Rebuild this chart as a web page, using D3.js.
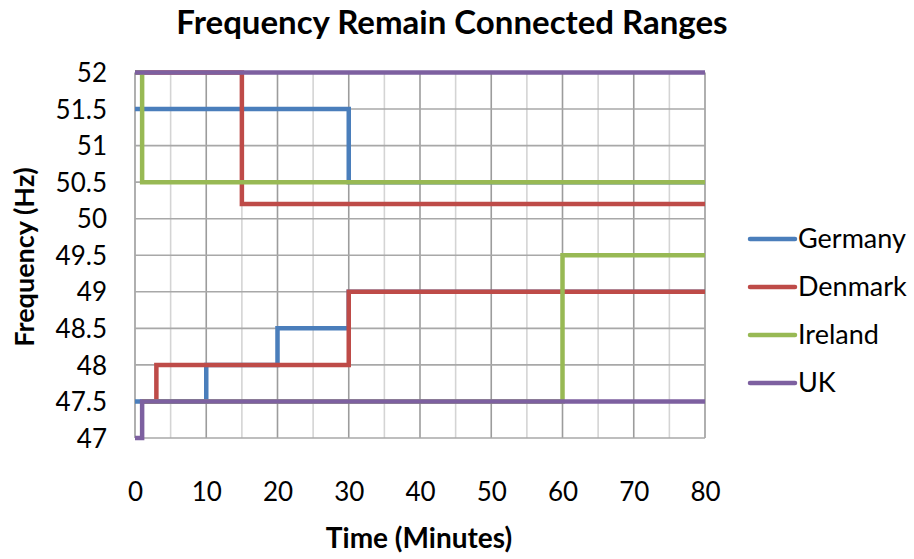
<!DOCTYPE html>
<html>
<head>
<meta charset="utf-8">
<script src="https://cdn.jsdelivr.net/npm/d3@7"></script>
<style>
  html, body { margin: 0; padding: 0; background: #ffffff; }
  svg { display: block; }
  text { font-family: Lato, "Open Sans", sans-serif; fill: #000; }
</style>
</head>
<body>
<svg id="chart" width="914" height="559"></svg>
<script>
// ---- data ----
const categories = ["Germany", "Denmark", "Ireland", "UK"];
const xTicks = [0, 10, 20, 30, 40, 50, 60, 70, 80];
const yTicks = [47, 47.5, 48, 48.5, 49, 49.5, 50, 50.5, 51, 51.5, 52];

// each series: upper and lower limit step lines, [time (min), frequency (Hz)]
const germanyUpper = [[0, 51.5], [30, 51.5], [30, 50.5], [80, 50.5]];
const germanyLower = [[0, 47.5], [10, 47.5], [10, 48], [20, 48], [20, 48.5], [30, 48.5], [30, 49], [80, 49]];
const denmarkUpper = [[0, 52], [15, 52], [15, 50.2], [80, 50.2]];
const denmarkLower = [[1, 47.5], [3, 47.5], [3, 48], [30, 48], [30, 49], [80, 49]];
const irelandUpper = [[0, 52], [1, 52], [1, 50.5], [80, 50.5]];
const irelandLower = [[1, 47.5], [60, 47.5], [60, 49.5], [80, 49.5]];
const ukUpper = [[0, 52], [80, 52]];
const ukLower = [[0, 47], [1, 47], [1, 47.5], [80, 47.5]];

const seriesLines = [
  [germanyUpper, germanyLower],
  [denmarkUpper, denmarkLower],
  [irelandUpper, irelandLower],
  [ukUpper, ukLower]
];
const colors = ["#4A7EBB", "#BE4B48", "#98B954", "#7D60A0"];

// ---- layout ----
const svg = d3.select("#chart");
const plotLeft = 135, plotRight = 705, plotTop = 72.5, plotBottom = 438;

const x = d3.scaleLinear().domain([0, 80]).range([plotLeft, plotRight]);
const y = d3.scaleLinear().domain([47, 52]).range([plotBottom, plotTop]);

// minor vertical gridlines (every 5)
const minorX = d3.range(5, 80, 10);
svg.append("g").selectAll("line").data(minorX).join("line")
  .attr("x1", d => x(d)).attr("x2", d => x(d))
  .attr("y1", y(52)).attr("y2", y(47))
  .attr("stroke", "#d4d4d4").attr("stroke-width", 1.6);

// major vertical gridlines
svg.append("g").selectAll("line").data(xTicks).join("line")
  .attr("x1", d => x(d)).attr("x2", d => x(d))
  .attr("y1", y(52)).attr("y2", y(47))
  .attr("stroke", "#9c9c9c").attr("stroke-width", 1.6);

// horizontal gridlines
svg.append("g").selectAll("line").data(yTicks).join("line")
  .attr("x1", x(0)).attr("x2", x(80))
  .attr("y1", d => y(d)).attr("y2", d => y(d))
  .attr("stroke", "#a8a8a8").attr("stroke-width", 1.6);

// axes (labels only)
const xAxis = d3.axisBottom(x).tickValues(xTicks).tickSize(0).tickPadding(0).tickFormat(d3.format("d"));
const gx = svg.append("g").attr("transform", `translate(0,${plotBottom + 63})`).call(xAxis);
gx.select(".domain").remove();
gx.selectAll("text").attr("font-size", 26).attr("font-family", "Lato").attr("fill", "#000").attr("dy", 0);

const yAxis = d3.axisLeft(y).tickValues(yTicks).tickSize(0).tickPadding(0).tickFormat(d => String(d));
const gy = svg.append("g").attr("transform", `translate(${plotLeft - 28},0)`).call(yAxis);
gy.select(".domain").remove();
gy.selectAll("text").attr("font-size", 26).attr("font-family", "Lato").attr("fill", "#000").attr("dy", "0.35em");

// series lines
const line = d3.line().x(d => x(d[0])).y(d => y(d[1]));
const gs = svg.append("g");
seriesLines.forEach((segs, i) => {
  segs.forEach(seg => {
    gs.append("path").attr("d", line(seg))
      .attr("fill", "none").attr("stroke", colors[i])
      .attr("stroke-width", 4.5).attr("stroke-linejoin", "miter").attr("stroke-linecap", "butt");
  });
});

// title
svg.append("text").attr("x", 452).attr("y", 34).attr("text-anchor", "middle")
  .attr("font-size", 33).attr("font-weight", "bold").text("Frequency Remain Connected Ranges");

// axis titles
svg.append("text").attr("x", 419).attr("y", 548).attr("text-anchor", "middle")
  .attr("font-size", 28).attr("font-weight", "bold").text("Time (Minutes)");
svg.append("text").attr("transform", "translate(34,257) rotate(-90)").attr("text-anchor", "middle")
  .attr("font-size", 27).attr("font-weight", "bold").text("Frequency (Hz)");

// legend
const lg = svg.append("g");
const legendY = [239, 287, 335, 383];
categories.forEach((c, i) => {
  lg.append("line").attr("x1", 750).attr("x2", 795).attr("y1", legendY[i]).attr("y2", legendY[i])
    .attr("stroke", colors[i]).attr("stroke-width", 4.5).attr("stroke-linecap", "round");
  lg.append("text").attr("x", 798).attr("y", legendY[i]).attr("dy", "0.35em")
    .attr("font-size", 27).text(c);
});
</script>
</body>
</html>
